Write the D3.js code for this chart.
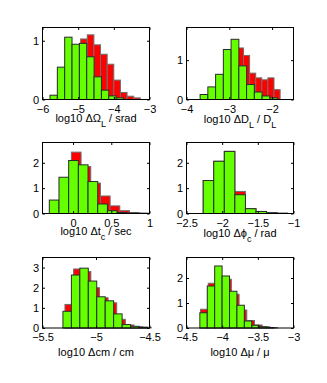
<!DOCTYPE html>
<html>
<head>
<meta charset="utf-8">
<script src="https://cdn.jsdelivr.net/npm/d3@7"></script>
<style>
  body { margin: 0; background: #fff; }
  text { font-family: "Liberation Sans", Arial, sans-serif; fill: #000; }
</style>
</head>
<body>
<svg width="327" height="383"></svg>
<script>
// axis settings, one entry per panel (row by row)
var xDomains = [[-6, -3], [-4, -1.5], [-0.4, 1], [-2.5, -1], [-5.5, -4.5], [-4.5, -3]];
var yDomains = [[0, 1.225], [0, 1.83], [0, 2.8], [0, 2.8], [0, 3.5], [0, 2.82]];
var xTicks = [[-6, -5, -4, -3], [-4, -3, -2], [0, 0.5, 1], [-2.5, -2, -1.5, -1], [-5.5, -5, -4.5], [-4.5, -4, -3.5, -3]];
var yTicks = [[0, 1], [0, 1], [0, 1, 2], [0, 1, 2], [0, 1, 2, 3], [0, 1, 2]];

// x labels: [text, subscript, text, subscript]
var xLabels = [
  ["log10 \u0394\u03A9", "L", " / srad"],
  ["log10 \u0394D", "L", " / D", "L"],
  ["log10 \u0394t", "c", " / sec"],
  ["log10 \u0394\u03D5", "c", " / rad"],
  ["log10 \u0394cm / cm"],
  ["log10 \u0394\u03BC / \u03BC"]
];

// histogram bins (left edge of first bin, bin width)
var greenBinStart = [-5.79, -3.682, -0.311, -2.266, -5.309, -4.313];
var greenBinWidth = [0.206, 0.181, 0.1267, 0.148, 0.079, 0.104];
var redBinStart = [-5.117, -3.238, -0.2755, -2.266, -5.29, -4.303];
var redBinWidth = [0.186, 0.1425, 0.1267, 0.148, 0.0806, 0.108];

// bar heights
var omegaGreen = [0.073, 0.55, 1.06, 0.94, 0.955, 0.727, 0.386, 0.159, 0.061, 0.027];
var omegaRed   = [0.85, 1.03, 1.10, 0.93, 0.77, 0.6, 0.33, 0.12, 0.056, 0.027];
var distGreen  = [0.127, 0.32, 0.64, 1.27, 1.53, 0.855, 0.38, 0.19, 0.09, 0.04];
var distRed    = [0.3, 0.9, 1.2, 1.31, 1.12, 0.67, 0.55, 0.5, 0.55, 0.25];
var tcGreen    = [0.53, 1.43, 2.09, 1.92, 1.26, 0.375, 0.11, 0.04, 0.015, 0.006];
var tcRed      = [0.45, 1.3, 2.42, 1.85, 1.2, 0.69, 0.3, 0.11, 0.04, 0.015];
var phiGreen   = [1.30, 2.06, 2.45, 0.74, 0.19, 0.08, 0.03, 0.01];
var phiRed     = [1.30, 2.06, 2.45, 0.87, 0.19, 0.08, 0.03, 0.01];
var cmGreen    = [0.83, 2.63, 2.97, 2.33, 1.55, 1.35, 0.70, 0.17, 0.085, 0.04];
var cmRed      = [1.17, 2.93, 2.8, 2.0, 1.5, 1.25, 0.43, 0.15, 0.06, 0.03];
var muGreen    = [0.61, 1.68, 2.48, 2.08, 1.47, 0.91, 0.28, 0.11, 0.05, 0.02];
var muRed      = [0.75, 1.79, 2.05, 1.95, 1.35, 0.72, 0.3, 0.12, 0.05, 0.02];

var greens = [omegaGreen, distGreen, tcGreen, phiGreen, cmGreen, muGreen];
var reds = [omegaRed, distRed, tcRed, phiRed, cmRed, muRed];

// layout
var colLeft = [42.5, 186.5];
var rowTop = [27.5, 142.5, 257.5];
var rowHeight = [72, 71, 70.5];
var panelWidth = 107;
var labelDy = [22.5, 23.5, 21.5, 23.5, 28, 28];

var svg = d3.select('svg');
var fmt = d3.format('');

for (var p = 0; p < 6; p++) drawPanel(p);

function drawPanel(p) {
  var px = colLeft[p % 2], py = rowTop[Math.floor(p / 2)], h = rowHeight[Math.floor(p / 2)];
  var x = d3.scaleLinear().domain(xDomains[p]).range([0, panelWidth]);
  var y = d3.scaleLinear().domain(yDomains[p]).range([h, 0]);

  var g = svg.append('g').attr('transform', 'translate(' + px + ',' + py + ')');

  drawBars(g, reds[p], redBinStart[p], redBinWidth[p], x, y, '#ff0000', '#6e6e6e');
  drawBars(g, greens[p], greenBinStart[p], greenBinWidth[p], x, y, '#66ff00', '#2a2a2a');

  // axes, ticks inside like matlab
  var ax = g.append('g').attr('transform', 'translate(0,' + h + ')')
    .call(d3.axisBottom(x).tickValues(xTicks[p]).tickFormat(fmt).tickSizeInner(-2.5).tickSizeOuter(0).tickPadding(5.2));
  var axTop = g.append('g')
    .call(d3.axisTop(x).tickValues(xTicks[p]).tickFormat('').tickSizeInner(-2.5).tickSizeOuter(0));
  var ay = g.append('g')
    .call(d3.axisLeft(y).tickValues(yTicks[p]).tickFormat(fmt).tickSizeInner(-2.5).tickSizeOuter(0).tickPadding(3.5));
  var ayR = g.append('g').attr('transform', 'translate(' + panelWidth + ',0)')
    .call(d3.axisRight(y).tickValues(yTicks[p]).tickFormat('').tickSizeInner(-2.5).tickSizeOuter(0));
  [ax, axTop, ay, ayR].forEach(function(a) {
    a.select('.domain').remove();
    a.selectAll('line').attr('stroke', '#000');
    a.selectAll('text').attr('font-size', 11).attr('font-family', '"Liberation Sans", Arial, sans-serif');
  });

  g.append('rect')
    .attr('width', panelWidth).attr('height', h)
    .attr('fill', 'none').attr('stroke', '#000').attr('stroke-width', 1);

  // x label
  var lab = g.append('text')
    .attr('x', panelWidth / 2).attr('y', h + labelDy[p])
    .attr('text-anchor', 'middle').attr('font-size', 11);
  xLabels[p].forEach(function(part, i) {
    var t = lab.append('tspan').text(part);
    if (i % 2 == 1) t.attr('font-size', 9).attr('dy', 4.5);
    else if (i > 0) t.attr('dy', -4.5);
  });
}

function drawBars(g, heights, start, width, x, y, fill, stroke) {
  g.append('g').selectAll('rect').data(heights)
    .enter().append('rect')
    .attr('x', function(d, i) { return x(start + i * width); })
    .attr('width', function(d, i) { return x(start + (i + 1) * width) - x(start + i * width); })
    .attr('y', function(d) { return y(d); })
    .attr('height', function(d) { return y(0) - y(d); })
    .attr('fill', fill)
    .attr('stroke', stroke)
    .attr('stroke-width', 1);
}
</script>
</body>
</html>
